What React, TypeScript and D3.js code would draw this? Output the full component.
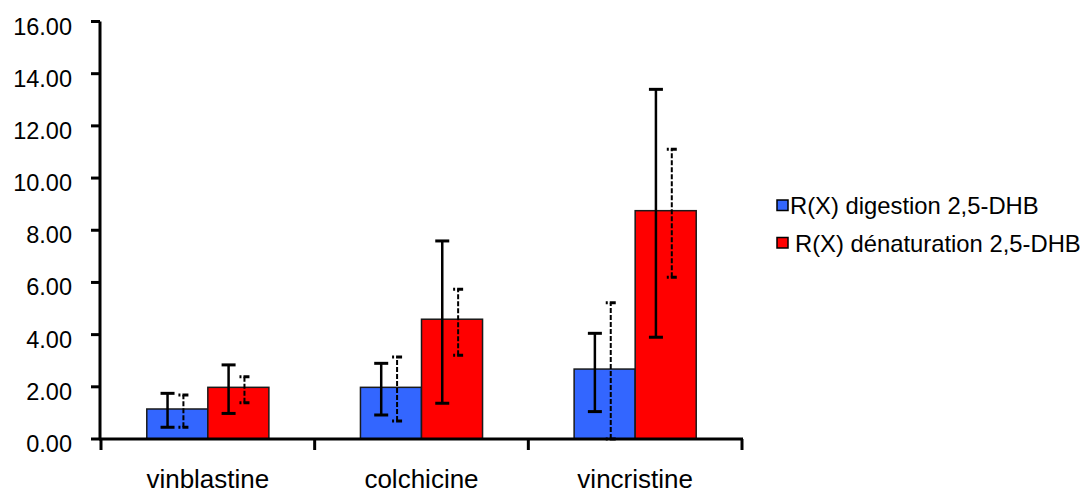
import React from "react";
import * as d3 from "d3";

const categories = ["vinblastine", "colchicine", "vincristine"];
const seriesNames = ["R(X) digestion 2,5-DHB", "R(X) dénaturation 2,5-DHB"];
const digestion = [1.15, 1.98, 2.68];
const denaturation = [1.98, 4.59, 8.75];
// solid error bars [low, high]
const digestionSolid = [[0.45, 1.75], [0.92, 2.9], [1.05, 4.05]];
const denaturationSolid = [[0.98, 2.84], [1.37, 7.59], [3.9, 13.4]];
// dashed error bars [low, high]
const digestionDashed = [[0.45, 1.69], [0.69, 3.14], [0, 5.22]];
const denaturationDashed = [[1.39, 2.39], [3.21, 5.74], [6.2, 11.1]];
const yTicks = [0, 2, 4, 6, 8, 10, 12, 14, 16];
const colors = ["#3366FF", "#FF0000"];

const W = 1089;
const H = 494;
const FONT = "'Liberation Sans', Arial, sans-serif";

export default function App() {
  const x0 = d3.scaleBand<string>().domain(categories).range([101, 742]).paddingInner(0).paddingOuter(0);
  const x1 = d3.scaleBand<number>().domain([0, 1]).range([0, x0.bandwidth()]).paddingInner(0).paddingOuter(0.75);
  const y = d3.scaleLinear().domain([0, 16]).range([439, 21.5]);

  const values = [digestion, denaturation];
  const solids = [digestionSolid, denaturationSolid];
  const dashes = [digestionDashed, denaturationDashed];
  const bw = x1.bandwidth();

  return (
    <svg width={W} height={H} style={{ position: "absolute", left: 0, top: 0, display: "block", background: "#fff" }} fontFamily={FONT}>
      {/* bars */}
      {categories.map((c, ci) =>
        values.map((vals, si) => (
          <rect
            key={`b-${ci}-${si}`}
            x={(x0(c) as number) + (x1(si) as number)}
            y={y(vals[ci])}
            width={bw}
            height={y(0) - y(vals[ci])}
            fill={colors[si]}
            stroke="#1a1a1a"
            strokeWidth={1.5}
          />
        ))
      )}
      {/* error bars */}
      {categories.map((c, ci) =>
        values.map((_, si) => {
          const bx = (x0(c) as number) + (x1(si) as number);
          const sx = bx + bw * 0.34;
          const dx = bx + bw * 0.6;
          const [sl, sh] = solids[si][ci];
          const [dl, dh] = dashes[si][ci];
          return (
            <g key={`e-${ci}-${si}`}>
              <line x1={sx} x2={sx} y1={y(sl)} y2={y(sh)} stroke="#000" strokeWidth={2.5} />
              <line x1={sx - 7} x2={sx + 7} y1={y(sh)} y2={y(sh)} stroke="#000" strokeWidth={3} />
              <line x1={sx - 7} x2={sx + 7} y1={y(sl)} y2={y(sl)} stroke="#000" strokeWidth={3} />
              <line x1={dx} x2={dx} y1={y(dl)} y2={y(dh)} stroke="#000" strokeWidth={2} strokeDasharray="5,2" />
              <line x1={dx - 5} x2={dx + 5} y1={y(dh)} y2={y(dh)} stroke="#000" strokeWidth={3} strokeDasharray="2,2,6" />
              <line x1={dx - 5} x2={dx + 5} y1={y(dl)} y2={y(dl)} stroke="#000" strokeWidth={3} strokeDasharray="2,2,6" />
            </g>
          );
        })
      )}
      {/* y axis */}
      <line x1={100} x2={100} y1={y(16)} y2={y(0)} stroke="#000" strokeWidth={3} />
      {yTicks.map((t) => (
        <g key={`yt-${t}`}>
          <line x1={91} x2={100} y1={y(t)} y2={y(t)} stroke="#000" strokeWidth={3} />
          <text x={72} y={y(t) + 13} textAnchor="end" fontSize={23.5} fill="#000">
            {t.toFixed(2)}
          </text>
        </g>
      ))}
      {/* x axis */}
      <line x1={99} x2={743} y1={y(0)} y2={y(0)} stroke="#000" strokeWidth={3} />
      {[...categories.map((c) => x0(c) as number), 742].map((xv, i) => (
        <line key={`xt-${i}`} x1={xv} x2={xv} y1={y(0)} y2={y(0) + 11} stroke="#000" strokeWidth={3} />
      ))}
      {categories.map((c) => (
        <text key={`xl-${c}`} x={(x0(c) as number) + x0.bandwidth() / 2} y={488} textAnchor="middle" fontSize={26} fill="#000">
          {c}
        </text>
      ))}
      {/* legend */}
      {seriesNames.map((n, i) => (
        <g key={`lg-${i}`}>
          <rect x={777} y={200 + i * 37.5} width={11} height={10.5} fill={colors[i]} stroke="#000" strokeWidth={1.5} />
          <text x={i === 0 ? 790 : 795} y={214 + i * 37.7} fontSize={23.8} fill="#000">
            {n}
          </text>
        </g>
      ))}
    </svg>
  );
}
